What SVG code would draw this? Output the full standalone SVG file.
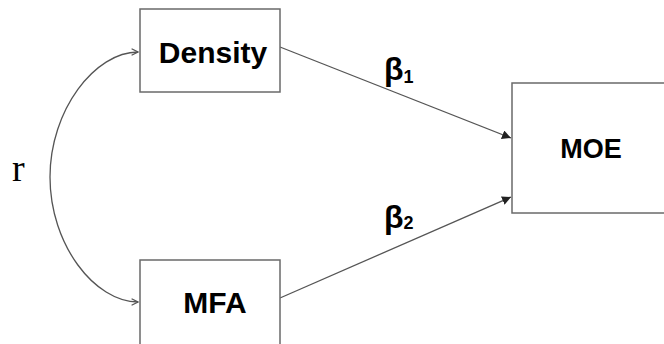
<svg xmlns="http://www.w3.org/2000/svg" width="664" height="344" viewBox="0 0 664 344">
<style>
.box{fill:#fff;stroke:#6a6a6a;stroke-width:1.5}
.lbl{font-family:"Liberation Sans",Arial,sans-serif;font-weight:bold;fill:#000;text-anchor:middle}
.edge{fill:none;stroke:#555;stroke-width:1.3}
.beta{font-family:"Liberation Sans",Arial,sans-serif;font-weight:bold;font-size:32px;fill:#000}
.sub{font-size:18px}
</style>
<defs>
<marker id="tri" viewBox="0 0 10 10" refX="10" refY="5" markerWidth="9" markerHeight="9" markerUnits="userSpaceOnUse" orient="auto"><path d="M0,0 L10,5 L0,10 z" fill="#222"/></marker>
<marker id="chev" viewBox="0 0 10 10" refX="9" refY="5" markerWidth="8" markerHeight="8" markerUnits="userSpaceOnUse" orient="auto-start-reverse"><path d="M1,1 L9,5 L1,9" fill="none" stroke="#555" stroke-width="1.5"/></marker>
</defs>
<rect width="664" height="344" fill="#fff"/>
<g id="connectors">
<path class="edge" d="M280,47 L511,138" marker-end="url(#tri)"/>
<path class="edge" d="M280,298 L511,197" marker-end="url(#tri)"/>
<path class="edge" d="M138,52 C95,52 50,110 50,177 C50,245 95,302 138,302" marker-start="url(#chev)" marker-end="url(#chev)"/>
<text class="beta" x="384" y="80">β<tspan class="sub" dy="3">1</tspan></text>
<text class="beta" x="384" y="228">β<tspan class="sub" dy="1">2</tspan></text>
<text x="12" y="181" font-family="Liberation Serif,'Times New Roman',serif" font-size="38" fill="#000">r</text>
</g>
<g id="density">
<rect class="box" x="140" y="9" width="140" height="83"/>
<text class="lbl" x="213" y="63" font-size="30">Density</text>
</g>
<g id="mfa">
<rect class="box" x="140" y="260" width="140" height="86"/>
<text class="lbl" x="215" y="313" font-size="30">MFA</text>
</g>
<g id="moe">
<rect class="box" x="512" y="83" width="153" height="130"/>
<text class="lbl" x="591" y="158" font-size="27">MOE</text>
</g>
</svg>
